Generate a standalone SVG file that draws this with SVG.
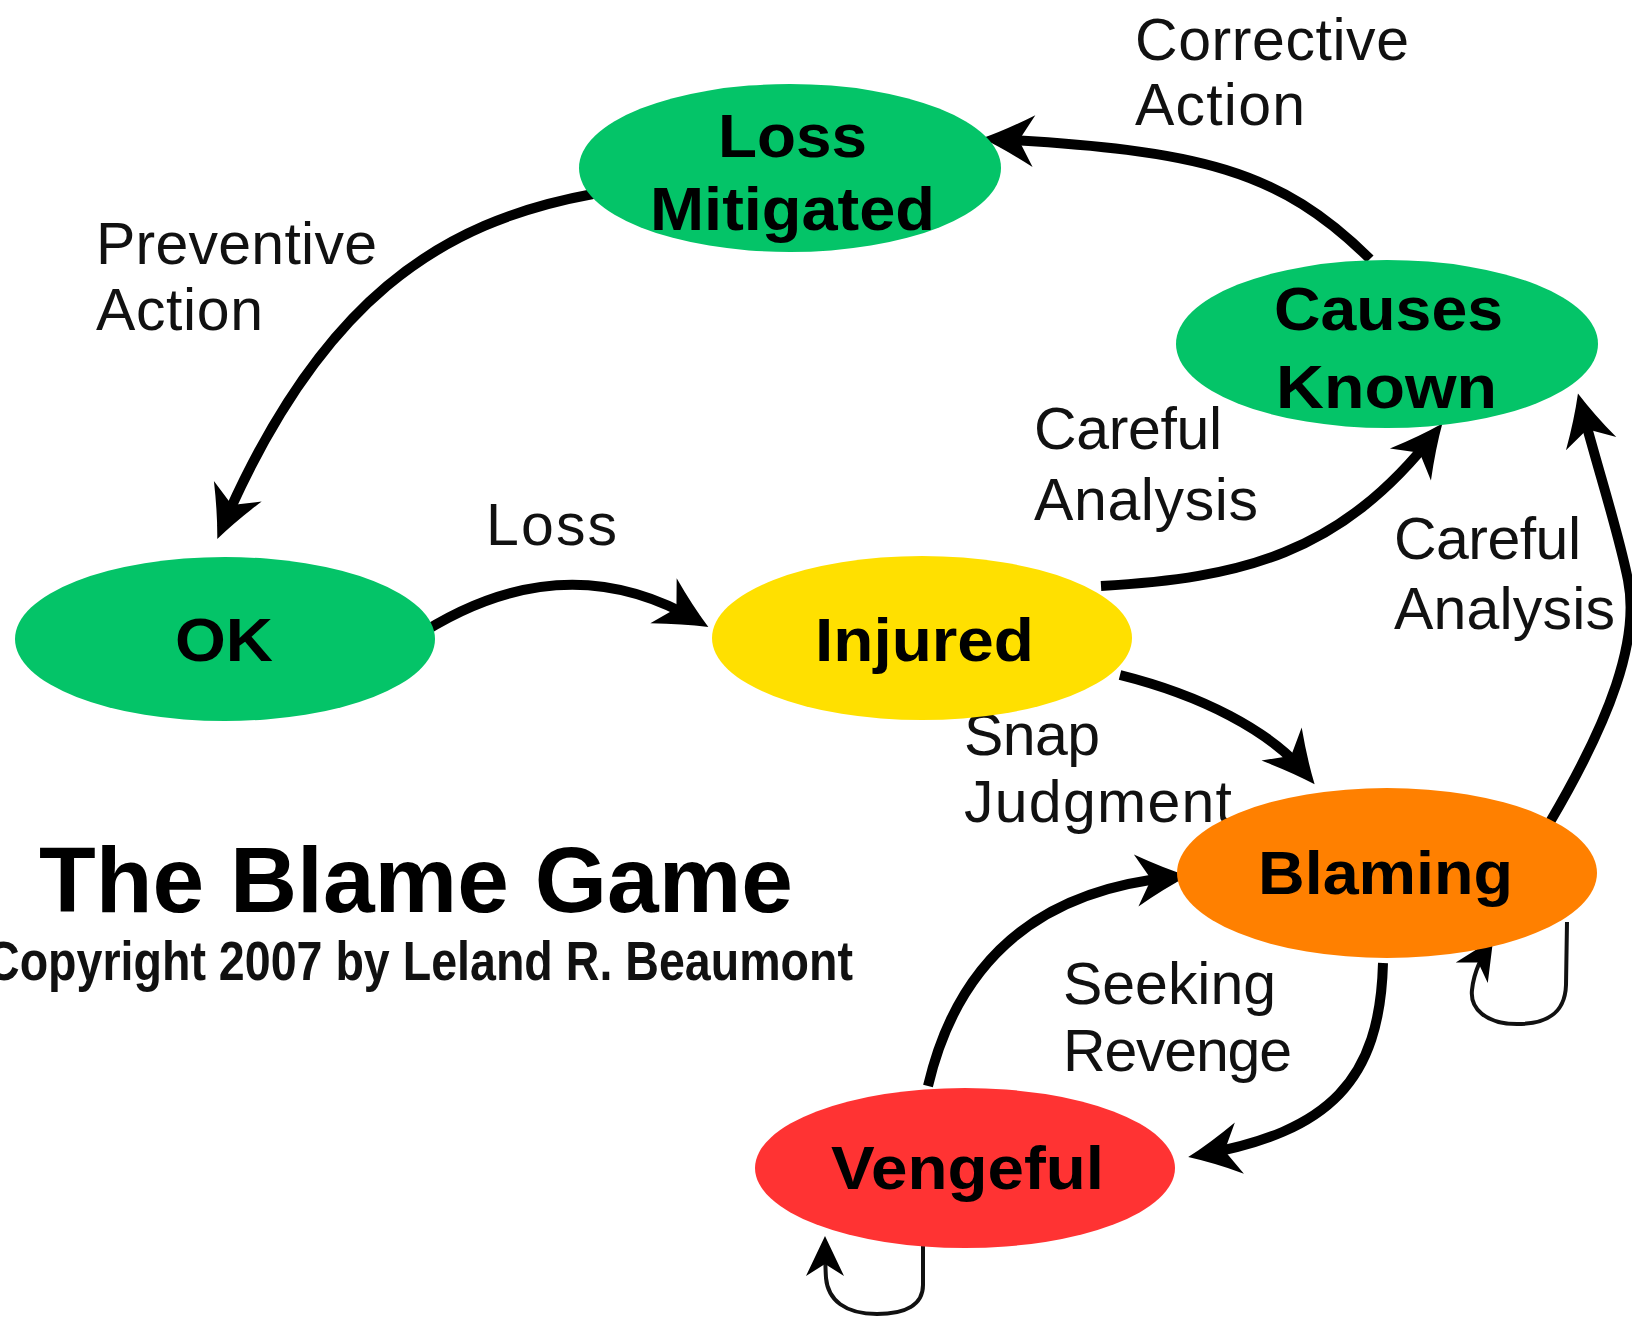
<svg xmlns="http://www.w3.org/2000/svg" width="1632" height="1321" viewBox="0 0 1632 1321">
<style>
.nl{font-family:"Liberation Sans",Arial,sans-serif;font-weight:bold;font-size:62px;fill:#000}
.el{font-family:"Liberation Sans",Arial,sans-serif;font-size:59px;fill:#111}
.c{fill:none;stroke:#000;stroke-width:10;stroke-linecap:butt}
.s{fill:none;stroke:#111;stroke-width:4}
.green{fill:#04c468}
</style>
<defs>
<marker id="ah" markerUnits="userSpaceOnUse" viewBox="-50 -35 70 70" refX="0" refY="0" markerWidth="70" markerHeight="70" orient="auto" overflow="visible">
<path d="M12,0 Q-12,-10 -40,-26 L-25,0 L-40,26 Q-12,10 12,0 Z" fill="#000"/>
</marker>
<marker id="sh" markerUnits="userSpaceOnUse" viewBox="-40 -25 50 50" refX="0" refY="0" markerWidth="50" markerHeight="50" orient="auto" overflow="visible">
<path d="M6,0 L-34,-19 L-22,0 L-34,19 Z" fill="#000"/>
</marker>
</defs>
<rect width="1632" height="1321" fill="#fff"/>

<g id="connectors">
<path class="c" d="M593 194 C440 222 320 300 222 528" marker-end="url(#ah)"/>
<path class="c" d="M411 640 Q560 540 698 621" marker-end="url(#ah)"/>
<path class="c" d="M1101 586 C1240 578 1340 555 1435 433" marker-end="url(#ah)"/>
<path class="c" d="M1370 259 C1280 170 1200 150 994 139" marker-end="url(#ah)"/>
<path class="c" d="M1120 675 C1200 695 1270 730 1307 775" marker-end="url(#ah)"/>
<path class="c" d="M1550 822 C1610 720 1640 640 1628 580 C1618 530 1598 470 1581 405" marker-end="url(#ah)"/>
<path class="c" d="M1383 963 C1380 1080 1330 1132 1200 1155" marker-end="url(#ah)"/>
<path class="c" d="M928 1086 C960 950 1050 888 1176 877" marker-end="url(#ah)"/>
<path class="s" d="M1567 922 L1566 985 C1565 1015 1545 1024 1517 1024 C1485 1024 1470 1008 1472 990 C1474 970 1483 955 1490 944" marker-end="url(#sh)"/>
<path class="s" d="M923 1245 L923 1285 C923 1305 905 1314 877 1314 C845 1314 828 1300 826 1278 C825 1262 825 1250 825 1242" marker-end="url(#sh)"/>
</g>

<g id="labels">
<text class="el" x="1135" y="60" textLength="274">Corrective</text>
<text class="el" x="1135" y="125" textLength="170">Action</text>
<text class="el" x="96" y="264" textLength="281">Preventive</text>
<text class="el" x="96" y="330" textLength="167">Action</text>
<text class="el" x="486" y="545" textLength="131">Loss</text>
<text class="el" x="1034" y="449" textLength="188">Careful</text>
<text class="el" x="1034" y="520" textLength="224">Analysis</text>
<text class="el" x="1394" y="559" textLength="187">Careful</text>
<text class="el" x="1394" y="629" textLength="221">Analysis</text>
<text class="el" x="964" y="755" textLength="136">Snap</text>
<text class="el" x="964" y="822" textLength="268">Judgment</text>
<text class="el" x="1063" y="1004" textLength="213">Seeking</text>
<text class="el" x="1063" y="1071" textLength="229">Revenge</text>
</g>

<g id="node-loss-mitigated">
<ellipse class="green" cx="790" cy="168" rx="211" ry="84"/>
<text class="nl" x="718" y="157" textLength="149" lengthAdjust="spacingAndGlyphs">Loss</text>
<text class="nl" x="650" y="230" textLength="285" lengthAdjust="spacingAndGlyphs">Mitigated</text>
</g>
<g id="node-ok">
<ellipse class="green" cx="225" cy="639" rx="210" ry="82"/>
<text class="nl" x="175" y="661" textLength="98" lengthAdjust="spacingAndGlyphs">OK</text>
</g>
<g id="node-injured">
<ellipse cx="922" cy="638" rx="210" ry="82" fill="#ffe000"/>
<text class="nl" x="815" y="661" textLength="219" lengthAdjust="spacingAndGlyphs">Injured</text>
</g>
<g id="node-causes-known">
<ellipse class="green" cx="1387" cy="344" rx="211" ry="84"/>
<text class="nl" x="1274" y="330" textLength="229" lengthAdjust="spacingAndGlyphs">Causes</text>
<text class="nl" x="1276" y="408" textLength="221" lengthAdjust="spacingAndGlyphs">Known</text>
</g>
<g id="node-blaming">
<ellipse cx="1387" cy="873" rx="210" ry="85" fill="#ff8000"/>
<text class="nl" x="1258" y="894" textLength="255" lengthAdjust="spacingAndGlyphs">Blaming</text>
</g>
<g id="node-vengeful">
<ellipse cx="965" cy="1168" rx="210" ry="80" fill="#ff3333"/>
<text class="nl" x="831" y="1189" textLength="273" lengthAdjust="spacingAndGlyphs">Vengeful</text>
</g>

<g id="title">
<text x="39" y="912" font-family="'Liberation Sans',Arial,sans-serif" font-weight="bold" font-size="92" textLength="754" lengthAdjust="spacingAndGlyphs" fill="#000">The Blame Game</text>
<text x="-14" y="980" font-family="'Liberation Sans',Arial,sans-serif" font-weight="bold" font-size="55" textLength="867" lengthAdjust="spacingAndGlyphs" fill="#111">Copyright 2007  by Leland R. Beaumont</text>
</g>
</svg>
